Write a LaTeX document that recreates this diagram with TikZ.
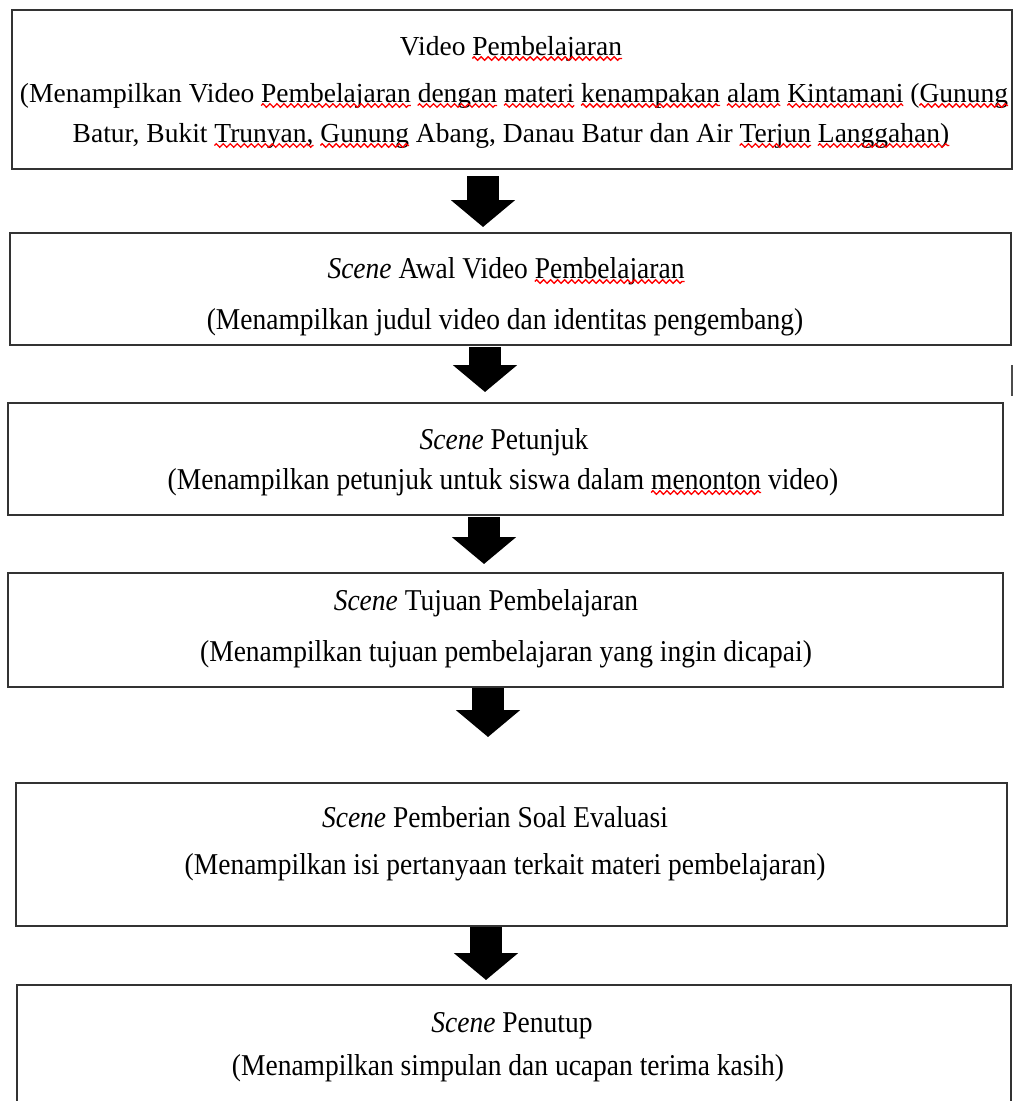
\documentclass[tikz,border=0pt]{standalone}
\usepackage{fontspec}
\setmainfont{Liberation Serif}
\usetikzlibrary{arrows.meta,decorations.pathmorphing}
\newcommand\tall[1]{\scalebox{1}[1.1]{#1}}
\newcommand\sqw[3]{%
  \node[meas, anchor=base west] (sqA) at (#1.base west) {\phantom{#2}};
  \node[meas, anchor=base west] (sqB) at (#1.base west) {\phantom{#2#3}};
  \draw[squig] ([yshift=-3.5pt]sqA.base east) -- ([yshift=-3.5pt]sqB.base east);}
\begin{document}
\begin{tikzpicture}[x=1pt,y=-1pt,
  box/.style={draw=black!80, line width=2.6pt, inner sep=0pt, outer sep=0pt, rectangle},
  txt/.style={anchor=base, inner sep=0pt, outer sep=0pt, font=\fontsize{27.5}{33}\selectfont},
  meas/.style={inner sep=0pt, outer sep=0pt, font=\fontsize{27.5}{33}\selectfont},
  squig/.style={draw=red, line width=1.3pt, decorate, decoration={zigzag, amplitude=1.8pt, segment length=7pt}},
  blockarrow/.style={draw=black, line width=32pt, -{Triangle[width=63pt,length=27pt]}}]
\useasboundingbox (0,0) rectangle (1013,1101);
\clip (0,0) rectangle (1013,1101);
\fill[white] (0,0) rectangle (1013,1101);

% boxes
\node[box, minimum width=1000pt, minimum height=159pt] (b1) at (512,89.5) {};
\node[box, minimum width=1001pt, minimum height=112pt] (b2) at (510.5,289) {};
\node[box, minimum width=995pt, minimum height=112pt] (b3) at (505.5,459) {};
\node[box, minimum width=995pt, minimum height=114pt] (b4) at (505.5,630) {};
\node[box, minimum width=991pt, minimum height=143pt] (b5) at (511.5,854.5) {};
\node[box, minimum width=994pt, minimum height=140pt] (b6) at (514,1055) {};

% texts
\node[txt] (t1a) at (511,55) {Video Pembelajaran};
\node[txt] (t1b) at (514,102) {(Menampilkan Video Pembelajaran dengan materi kenampakan alam Kintamani (Gunung};
\node[txt] (t1c) at (511,142) {Batur, Bukit Trunyan, Gunung Abang, Danau Batur dan Air Terjun Langgahan)};

\node[txt] (t2a) at (506,278) {\tall{\textit{Scene} Awal Video Pembelajaran}};
\node[txt] (t2b) at (505,329) {\tall{(Menampilkan judul video dan identitas pengembang)}};
\node[txt] (t3a) at (504,449) {\tall{\textit{Scene} Petunjuk}};
\node[txt] (t3b) at (503,489) {\tall{(Menampilkan petunjuk untuk siswa dalam menonton video)}};
\node[txt] (t4a) at (486,610) {\tall{\textit{Scene} Tujuan Pembelajaran}};
\node[txt] (t4b) at (506,661) {\tall{(Menampilkan tujuan pembelajaran yang ingin dicapai)}};
\node[txt] (t5a) at (495,827) {\tall{\textit{Scene} Pemberian Soal Evaluasi}};
\node[txt] (t5b) at (505,874) {\tall{(Menampilkan isi pertanyaan terkait materi pembelajaran)}};
\node[txt] (t6a) at (512,1032) {\tall{\textit{Scene} Penutup}};
\node[txt] (t6b) at (508,1075) {\tall{(Menampilkan simpulan dan ucapan terima kasih)}};

% spell-check squiggles
\sqw{t1a}{Video }{Pembelajaran}
\sqw{t1b}{(Menampilkan Video }{Pembelajaran}
\sqw{t1b}{(Menampilkan Video Pembelajaran }{dengan}
\sqw{t1b}{(Menampilkan Video Pembelajaran dengan }{materi}
\sqw{t1b}{(Menampilkan Video Pembelajaran dengan materi }{kenampakan}
\sqw{t1b}{(Menampilkan Video Pembelajaran dengan materi kenampakan }{alam}
\sqw{t1b}{(Menampilkan Video Pembelajaran dengan materi kenampakan alam }{Kintamani}
\sqw{t1b}{(Menampilkan Video Pembelajaran dengan materi kenampakan alam Kintamani (}{Gunung}
\sqw{t1c}{Batur, Bukit }{Trunyan,}
\sqw{t1c}{Batur, Bukit Trunyan, }{Gunung}
\sqw{t1c}{Batur, Bukit Trunyan, Gunung Abang, Danau Batur dan Air }{Terjun}
\sqw{t1c}{Batur, Bukit Trunyan, Gunung Abang, Danau Batur dan Air Terjun }{Langgahan)}
\sqw{t2a}{\textit{Scene} Awal Video }{Pembelajaran}
\sqw{t3b}{(Menampilkan petunjuk untuk siswa dalam }{menonton}

% arrows
\draw[blockarrow] ([xshift=-29pt,yshift=-7pt]b1.south) -- ([xshift=-27.5pt,yshift=6pt]b2.north);
\draw[blockarrow] ([xshift=-25.5pt,yshift=-2pt]b2.south) -- ([xshift=-20.5pt,yshift=11pt]b3.north);
\draw[blockarrow] ([xshift=-21.5pt,yshift=-2pt]b3.south) -- ([xshift=-21.5pt,yshift=9pt]b4.north);
\draw[blockarrow] ([xshift=-17.5pt,yshift=-1pt]b4.south) -- ([xshift=-23.5pt,yshift=46pt]b5.north);
\draw[blockarrow] ([xshift=-25.5pt,yshift=-1pt]b5.south) -- ([xshift=-28pt,yshift=5pt]b6.north);

% stray mark
\draw[line width=2pt, black!70] (1012,365) -- (1012,396);
\end{tikzpicture}
\end{document}
